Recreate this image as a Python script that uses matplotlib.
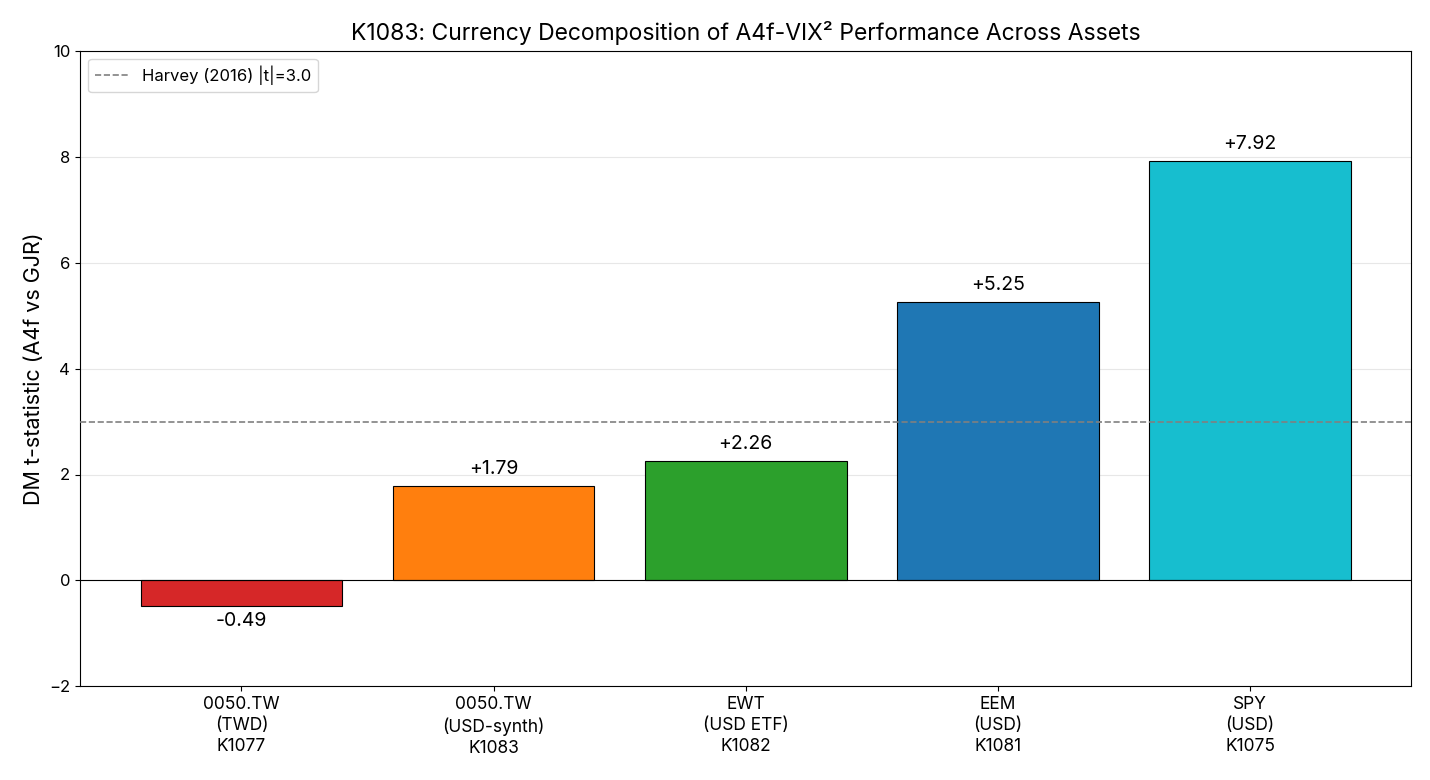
import matplotlib
matplotlib.use('Agg')
import matplotlib.pyplot as plt

plt.rcParams['font.family'] = ['Inter', 'DejaVu Sans']

labels = ['0050.TW\n(TWD)\nK1077', '0050.TW\n(USD-synth)\nK1083', 'EWT\n(USD ETF)\nK1082',
          'EEM\n(USD)\nK1081', 'SPY\n(USD)\nK1075']
tstats = [-0.49, 1.79, 2.26, 5.25, 7.92]
colors = ['#d62728', '#ff7f0e', '#2ca02c', '#1f77b4', '#17becf']
harvey = 3.0

fig, ax = plt.subplots(figsize=(14.3, 7.8), dpi=100)
x = list(range(len(labels)))
bars = ax.bar(x, tstats, width=0.8, color=colors, edgecolor='black', linewidth=0.8, zorder=3)
ax.axhline(0, color='black', linewidth=0.8, zorder=4)
ax.axhline(harvey, color='gray', linestyle='--', linewidth=1.2, label=f'Harvey (2016) |t|={harvey:.1f}', zorder=4)
for b, v in zip(bars, tstats):
    if v >= 0:
        ax.text(b.get_x() + b.get_width() / 2, v + 0.15, f'{v:+.2f}', ha='center', va='bottom', fontsize=14)
    else:
        ax.text(b.get_x() + b.get_width() / 2, v - 0.1, f'{v:+.2f}', ha='center', va='top', fontsize=14)
ax.set_xticks(x)
ax.set_xticklabels(labels, fontsize=12.5, linespacing=1.3)
ax.tick_params(axis='y', labelsize=12)
ax.set_ylim(-2, 10)
ax.set_ylabel('DM t-statistic (A4f vs GJR)', fontsize=15.5)
ax.set_title('K1083: Currency Decomposition of A4f-VIX² Performance Across Assets', fontsize=16.5, pad=8)
ax.grid(axis='y', alpha=0.3, zorder=0)
ax.legend(loc='upper left', fontsize=12)
plt.subplots_adjust(left=0.056, right=0.987, top=0.935, bottom=0.12)
plt.savefig('out.png', dpi=100)
